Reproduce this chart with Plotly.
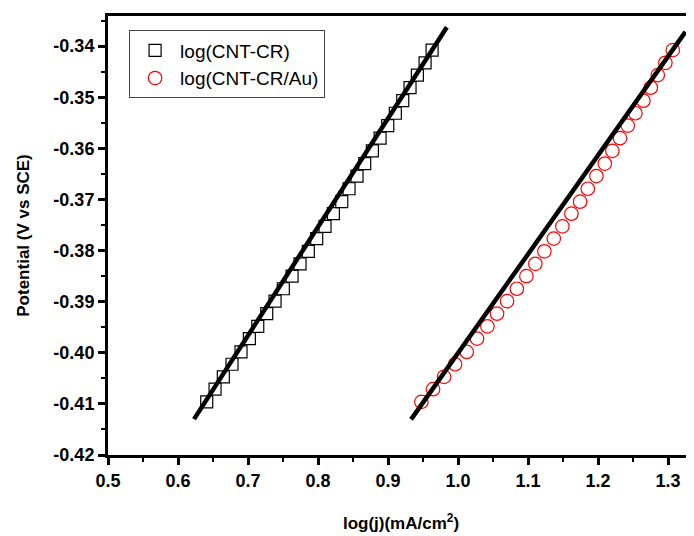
import plotly.graph_objects as go

# Data
potential = [-0.40960, -0.40712, -0.40472, -0.40224, -0.39984, -0.39723, -0.39483, -0.39235,
             -0.38989, -0.38747, -0.38501, -0.38259, -0.38014, -0.37766, -0.37526, -0.37278,
             -0.37044, -0.36790, -0.36542, -0.36297, -0.36049, -0.35801, -0.35555, -0.35313,
             -0.35067, -0.34813, -0.34566, -0.34326, -0.34078]

logj_cnt_cr = [0.6410, 0.6529, 0.6647, 0.6771, 0.6900, 0.7019, 0.7139, 0.7267, 0.7386, 0.7504,
               0.7629, 0.7743, 0.7861, 0.7981, 0.8100, 0.8219, 0.8339, 0.8443, 0.8557, 0.8667,
               0.8776, 0.8886, 0.8996, 0.9104, 0.9210, 0.9314, 0.9419, 0.9529, 0.9629]

logj_cnt_cr_au = [0.9476, 0.9643, 0.9800, 0.9957, 1.0124, 1.0271, 1.0419, 1.0557, 1.0700, 1.0839,
                  1.0976, 1.1104, 1.1233, 1.1367, 1.1490, 1.1619, 1.1743, 1.1853, 1.1976, 1.2096,
                  1.2204, 1.2314, 1.2424, 1.2533, 1.2647, 1.2753, 1.2853, 1.2961, 1.3067]

fit_cnt_cr_x = [0.6229, 0.9839]
fit_cnt_cr_y = [-0.41298, -0.33629]
fit_au_x = [0.9329, 1.3247]
fit_au_y = [-0.41303, -0.33721]

x_ticks = [0.5, 0.6, 0.7, 0.8, 0.9, 1.0, 1.1, 1.2, 1.3]
y_ticks = [-0.42, -0.41, -0.40, -0.39, -0.38, -0.37, -0.36, -0.35, -0.34]

FONT = "Liberation Sans, Arial, sans-serif"

fig = go.Figure()
fig.add_trace(go.Scatter(x=logj_cnt_cr, y=potential, mode="markers", name="log(CNT-CR)",
                         marker=dict(symbol="square-open", size=12, color="black",
                                     line=dict(width=1.2, color="black"))))
fig.add_trace(go.Scatter(x=logj_cnt_cr_au, y=potential, mode="markers", name="log(CNT-CR/Au)",
                         marker=dict(symbol="circle-open", size=13.5, color="red",
                                     line=dict(width=1.2, color="red"))))
fig.add_trace(go.Scatter(x=fit_cnt_cr_x, y=fit_cnt_cr_y, mode="lines", showlegend=False,
                         line=dict(color="black", width=4.5)))
fig.add_trace(go.Scatter(x=fit_au_x, y=fit_au_y, mode="lines", showlegend=False,
                         line=dict(color="black", width=4.5)))

# The page body has an 8px margin, so the figure is sized to fit the window from (8, 8)
fig.update_layout(
    width=686, height=528,
    margin=dict(l=100, r=0, t=8, b=81),
    plot_bgcolor="white", paper_bgcolor="white",
    font=dict(family=FONT, color="black"),
    showlegend=True,
    legend=dict(x=0.036, y=0.967, xanchor="left", yanchor="top",
                bordercolor="#444", borderwidth=1, bgcolor="white",
                itemwidth=40, tracegroupgap=0,
                font=dict(family=FONT, size=19, color="black")),
)
fig.update_xaxes(
    range=[0.5, 1.337], tickvals=x_ticks, ticktext=[f"<b>{v:.1f}</b>" for v in x_ticks],
    showgrid=False, zeroline=False,
    showline=True, linewidth=3, linecolor="black", mirror=True,
    ticks="outside", ticklen=7, tickwidth=2.5, tickcolor="black",
    minor=dict(ticks="outside", ticklen=4, tickwidth=2, tickcolor="black", dtick=0.05, tick0=0.5),
    tickfont=dict(family=FONT, size=18, color="black", weight="bold"),
    title=dict(text="<b>log(j)(mA/cm<sup>2</sup>)</b>", font=dict(family=FONT, size=17), standoff=28),
)
fig.update_yaxes(
    range=[-0.42, -0.3341], tickvals=y_ticks, ticktext=[f"<b>{v:.2f}</b>" for v in y_ticks],
    showgrid=False, zeroline=False,
    showline=True, linewidth=3, linecolor="black", mirror=False,
    ticks="outside", ticklen=7, tickwidth=2.5, tickcolor="black",
    minor=dict(ticks="outside", ticklen=4, tickwidth=2, tickcolor="black", dtick=0.005, tick0=-0.42),
    tickfont=dict(family=FONT, size=18, color="black", weight="bold"),
    title=dict(text="<b>Potential (V vs SCE)</b>", font=dict(family=FONT, size=17), standoff=20),
)

fig.write_html("out.html")
